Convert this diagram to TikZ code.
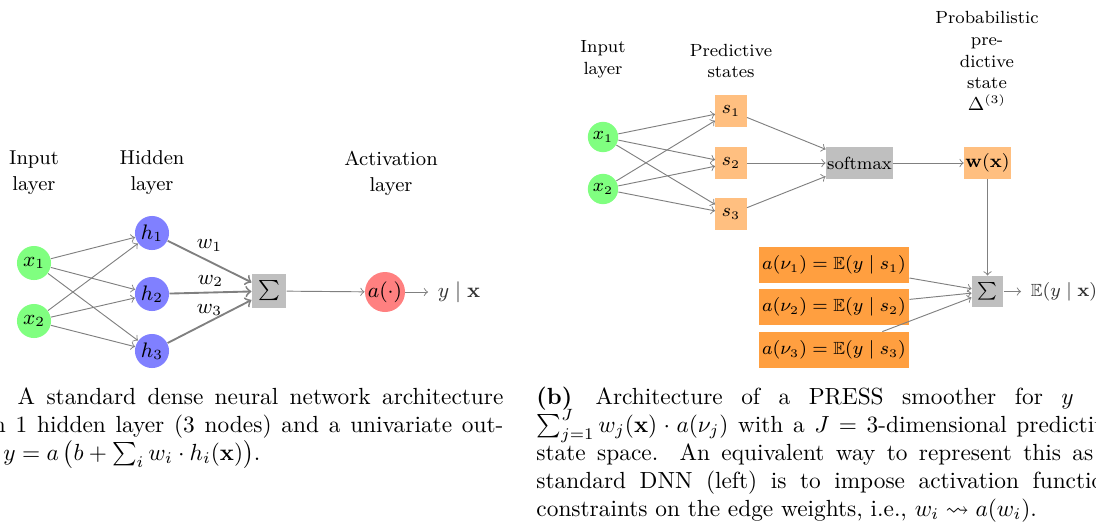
\documentclass[tikz,border=0pt]{standalone}
\usepackage{amsmath,amssymb}
\newcommand{\fL}{\fontsize{8.6}{11.1}\selectfont}
\newcommand{\fR}{\fontsize{7.55}{9.3}\selectfont}
\begin{document}
\begin{tikzpicture}[x=0.428571pt,y=0.428571pt,
  conn/.style={->, draw=gray, line width=0.4pt},
  connT/.style={->, draw=gray, line width=0.8pt},
  neuL/.style={circle, inner sep=0pt, minimum size=14.6pt, font=\fL},
  neuR/.style={circle, inner sep=0pt, minimum size=13pt, font=\fR},
  boxR/.style={rectangle, inner sep=0.5pt, minimum size=13.3pt, font=\fR},
  labL/.style={align=center, font=\fL},
  labR/.style={align=center, font=\fR},
  wl/.style={font=\fL, inner sep=1pt},
  capline/.style={anchor=base west, inner sep=0pt, font=\normalsize},
  outtxt/.style={anchor=west, inner sep=4pt, text=black!80}
]
\useasboundingbox (0,0) rectangle (1096,-529);

% ---------------- left network ----------------
\node[labL] (inL) at (34,-173) {Input\\layer};
\node[labL] (hidL) at (152,-173) {Hidden\\layer};
\node[labL] (actL) at (391,-173) {Activation\\layer};

\node[neuL, fill=green!50] (x1) at (34,-263) {$x_1$};
\node[neuL, fill=green!50] (x2) at (34,-321) {$x_2$};
\node[neuL, fill=blue!50] (h1) at (152,-233) {$h_1$};
\node[neuL, fill=blue!50] (h2) at (152,-294) {$h_2$};
\node[neuL, fill=blue!50] (h3) at (152,-351) {$h_3$};
\node[rectangle, fill=gray!50, inner sep=0pt, minimum size=14.6pt, font=\fL] (sigL) at (269,-291) {$\sum$};
\node[circle, fill=red!50, inner sep=0pt, minimum size=16.3pt, font=\fL] (act) at (385,-292) {$a(\cdot)$};
\node[outtxt, font=\fL] (yL) at (428,-292) {$y \mid \mathbf{x}$};

\foreach \i in {x1,x2}{
  \foreach \j in {h1,h2,h3}{
    \draw[conn] (\i) -- (\j);
  }
}
\draw[connT] (h1) -- node[wl, above=3pt] {$w_1$} (sigL);
\draw[connT] (h2) -- node[wl, above=1pt] {$w_2$} (sigL);
\draw[connT] (h3) -- node[wl, above=1pt] {$w_3$} (sigL);
\draw[conn] (sigL) -- (act);
\draw[conn] (act) -- (yL);

% ---------------- right network ----------------
\node[labR] (inR) at (603,-59) {Input\\layer};
\node[labR] (predR) at (731,-61) {Predictive\\states};
\node[labR] (probR) at (987,-61) {Probabilistic\\pre-\\dictive\\state\\$\Delta^{(3)}$};

\node[neuR, fill=green!50] (rx1) at (603,-137) {$x_1$};
\node[neuR, fill=green!50] (rx2) at (603,-189) {$x_2$};
\node[boxR, fill=orange!50] (s1) at (731,-111) {$s_1$};
\node[boxR, fill=orange!50] (s2) at (731,-163) {$s_2$};
\node[boxR, fill=orange!50] (s3) at (731,-214) {$s_3$};
\node[boxR, fill=gray!50, minimum width=27pt] (soft) at (859.5,-163) {softmax};
\node[boxR, fill=orange!50, minimum width=17.6pt] (wx) at (987.5,-163) {$\mathbf{w}(\mathbf{x})$};
\node[boxR, fill=gray!50] (sigR) at (987.5,-291.5) {$\sum$};
\node[outtxt, font=\fR] (EyR) at (1021,-291.5) {$\mathbb{E}(y \mid \mathbf{x})$};
\node[boxR, fill=orange!75, minimum width=64.3pt, minimum height=15.4pt] (a1) at (834,-265) {$a(\nu_1) = \mathbb{E}(y \mid s_1)$};
\node[boxR, fill=orange!75, minimum width=64.3pt, minimum height=15.4pt] (a2) at (834,-307) {$a(\nu_2) = \mathbb{E}(y \mid s_2)$};
\node[boxR, fill=orange!75, minimum width=64.3pt, minimum height=15.4pt] (a3) at (834,-350) {$a(\nu_3) = \mathbb{E}(y \mid s_3)$};

\foreach \i in {rx1,rx2}{
  \foreach \j in {s1,s2,s3}{
    \draw[conn] (\i) -- (\j);
  }
}
\foreach \j in {s1,s2,s3}{
  \draw[conn] (\j) -- (soft);
}
\draw[conn] (soft) -- (wx);
\draw[conn] (wx) -- (sigR);
\foreach \j in {a1,a2,a3}{
  \draw[conn] (\j) -- (sigR);
}
\draw[conn] (sigR) -- (EyR);

% ---------------- captions ----------------
\node[capline] (cl1) at (-40,-404) {\makebox[232.7pt][s]{\textbf{(a)}\quad A standard dense neural network architecture}};
\node[capline] (cl2) at (-40,-432) {\makebox[232.7pt][s]{with 1 hidden layer (3 nodes) and a univariate out-}};
\node[capline] (cl3) at (-40,-460) {\makebox[232.7pt][l]{put $y = a\mathinner{\bigl(b + \sum_i w_i \cdot h_i(\mathbf{x})\bigr)}$.}};

\node[capline] (cr1) at (536,-404) {\makebox[248.5pt][s]{\textbf{(b)}\quad Architecture of a PRESS smoother for $y =$}};
\node[capline] (cr2) at (536,-432) {\makebox[248.5pt][s]{$\sum_{j=1}^{J} w_j(\mathbf{x}) \cdot a(\nu_j)$ with a $J = 3$-dimensional predictive}};
\node[capline] (cr3) at (536,-460) {\makebox[248.5pt][s]{state space. An equivalent way to represent this as a}};
\node[capline] (cr4) at (536,-488) {\makebox[248.5pt][s]{standard DNN (left) is to impose activation function}};
\node[capline] (cr5) at (536,-516) {\makebox[248.5pt][l]{constraints on the edge weights, i.e., $w_i \rightsquigarrow a(w_i)$.}};
\end{tikzpicture}
\end{document}
